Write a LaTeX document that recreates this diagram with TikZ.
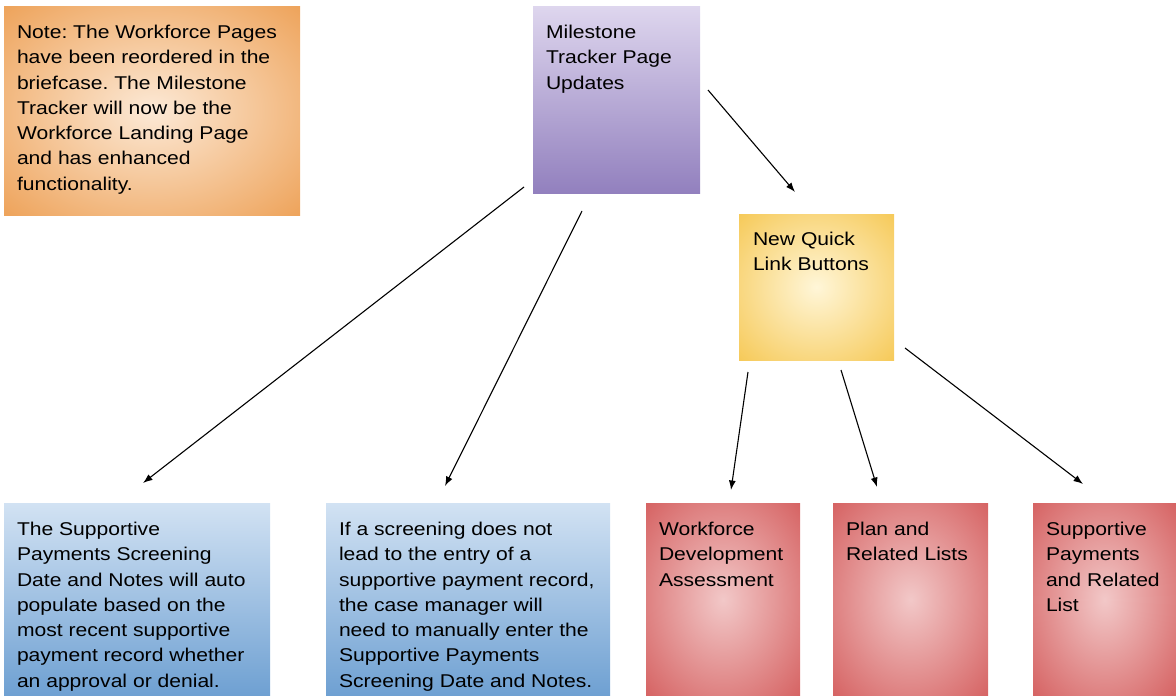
\documentclass[tikz,border=0pt]{standalone}
\usepackage{fontspec}
\setmainfont{Liberation Sans}[FakeStretch=1.14]
\usetikzlibrary{arrows.meta}
\frenchspacing
\definecolor{noteIn}{RGB}{252,233,214}
\definecolor{noteOut}{RGB}{238,164,92}
\definecolor{msTop}{RGB}{222,214,238}
\definecolor{msBot}{RGB}{146,128,190}
\definecolor{quickIn}{RGB}{255,246,216}
\definecolor{quickOut}{RGB}{246,202,90}
\definecolor{blueTop}{RGB}{210,226,243}
\definecolor{blueBot}{RGB}{110,160,210}
\definecolor{redIn}{RGB}{242,200,200}
\definecolor{redOut}{RGB}{214,100,100}
\pgfdeclareradialshading{noteglow}{\pgfpoint{0bp}{0bp}}{color(0bp)=(noteIn); color(35bp)=(noteOut); color(50bp)=(noteOut)}
\pgfdeclareradialshading{quickglow}{\pgfpoint{0bp}{0bp}}{color(0bp)=(quickIn); color(35bp)=(quickOut); color(50bp)=(quickOut)}
\pgfdeclareradialshading{redglow}{\pgfpoint{0bp}{0bp}}{color(0bp)=(redIn); color(35bp)=(redOut); color(50bp)=(redOut)}

\begin{document}
\begin{tikzpicture}[x=1pt, y=-1pt,
    notebox/.style={rectangle, shade, shading=noteglow},
    msbox/.style={rectangle, top color=msTop, bottom color=msBot},
    quickbox/.style={rectangle, shade, shading=quickglow},
    bluebox/.style={rectangle, top color=blueTop, bottom color=blueBot},
    redbox/.style={rectangle, shade, shading=redglow, minimum height=193pt},
    txt/.style={anchor=north west, inner sep=0pt, align=left,
      font=\fontsize{18.5}{25.3}\selectfont},
    link/.style={draw=black, line width=1.1pt, -{Latex[length=9.5pt,width=7pt]}}]
  \useasboundingbox (0,0) rectangle (1176,696);

  \node[notebox, minimum width=296pt, minimum height=209pt] (note) at (152,110.5) {};
  \node[msbox, minimum width=167pt, minimum height=187pt] (ms) at (616.5,99.5) {};
  \node[quickbox, minimum width=155pt, minimum height=146pt] (quick) at (816.5,287) {};
  \node[bluebox, minimum width=266pt, minimum height=193pt] (auto) at (137,599.5) {};
  \node[bluebox, minimum width=284pt, minimum height=193pt] (manual) at (468,599.5) {};
  \foreach \n/\cx/\w in {wda/723/154, plan/910.5/155, supp/1104.5/143}
  {
    \node[redbox, minimum width=\w pt] (\n) at (\cx,599.5) {};
  }

  \node[txt] (notetxt) at ([shift={(13,19)}]note.north west)
    {Note: The Workforce Pages\\have been reordered in the\\briefcase. The Milestone\\Tracker will now be the\\Workforce Landing Page\\and has enhanced\\functionality.};
  \node[txt] (mstxt) at ([shift={(13,19)}]ms.north west)
    {Milestone\\Tracker Page\\Updates};
  \node[txt] (quicktxt) at ([shift={(14,18)}]quick.north west)
    {New Quick\\Link Buttons};
  \node[txt] (autotxt) at ([shift={(13,19)}]auto.north west)
    {The Supportive\\Payments Screening\\Date and Notes will auto\\populate based on the\\most recent supportive\\payment record whether\\an approval or denial.};
  \node[txt] (manualtxt) at ([shift={(13,19)}]manual.north west)
    {If a screening does not\\lead to the entry of a\\supportive payment record,\\the case manager will\\need to manually enter the\\Supportive Payments\\Screening Date and Notes.};
  \node[txt] (wdatxt) at ([shift={(13,19)}]wda.north west)
    {Workforce\\Development\\Assessment};
  \node[txt] (plantxt) at ([shift={(13,19)}]plan.north west)
    {Plan and\\Related Lists};
  \node[txt] (supptxt) at ([shift={(13,19)}]supp.north west)
    {Supportive\\Payments\\and Related\\List};

  \coordinate (ms-r) at (708,90);
  \coordinate (quick-in) at (795,192);
  \coordinate (ms-l) at (524,187);
  \coordinate (auto-in) at (143,483);
  \coordinate (ms-b) at (582,211);
  \coordinate (manual-in) at (445,486);
  \coordinate (quick-l) at (748,372);
  \coordinate (wda-in) at (731,490);
  \coordinate (quick-m) at (841,370);
  \coordinate (plan-in) at (877,487);
  \coordinate (quick-r) at (905,348);
  \coordinate (supp-in) at (1083,484);

  \draw[link] (ms-r) -- (quick-in);
  \draw[link] (ms-l) -- (auto-in);
  \draw[link] (ms-b) -- (manual-in);
  \draw[link] (quick-l) -- (wda-in);
  \draw[link] (quick-m) -- (plan-in);
  \draw[link] (quick-r) -- (supp-in);
\end{tikzpicture}
\end{document}
